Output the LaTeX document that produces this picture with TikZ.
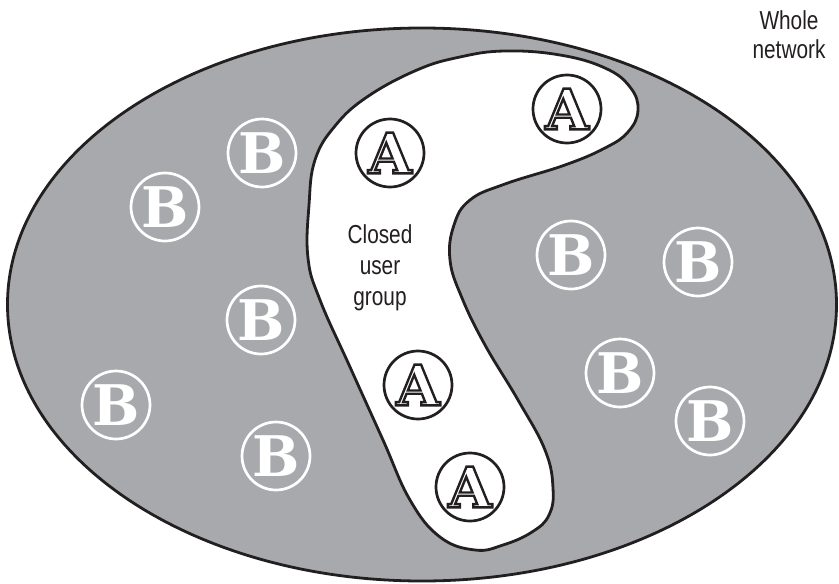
\documentclass[tikz,border=0pt]{standalone}
\usepackage{fontspec}
\setmainfont{Liberation Sans}
\newfontfamily\letterfont{DejaVu Serif}
\newfontfamily\labelfont[FakeStretch=0.8]{Liberation Sans}
\definecolor{netgray}{RGB}{167,169,172}
\definecolor{inkblack}{RGB}{35,31,32}
\tikzset{
  nodeA/.style={circle, draw=inkblack, fill=white, line width=2.7pt, minimum size=68pt, inner sep=0pt,
    font=\letterfont\bfseries\fontsize{56}{56}\selectfont},
  nodeB/.style={circle, draw=white, line width=2.7pt, minimum size=68pt, inner sep=0pt, text=white,
    font=\letterfont\bfseries\fontsize{56}{56}\selectfont},
  lbl/.style={anchor=base, inner sep=0pt, text=inkblack, font=\labelfont\fontsize{26}{26}\selectfont},
  outline/.style={draw=inkblack, line width=2.8pt}
}
\newcommand{\engA}{\textcolor{white}{\special{pdf:literal direct 2 Tr 2.4 w 0.137 0.122 0.125 RG}A\special{pdf:literal direct 0 Tr}}}
\begin{document}
\begin{tikzpicture}[x=1pt,y=-1pt]
\useasboundingbox (0,0) rectangle (839,584);
% whole network
\draw[outline, fill=netgray] (422,304.5) ellipse [x radius=414.5, y radius=276.5];
% closed user group
\draw[outline, fill=white] plot[smooth cycle, tension=0.7] coordinates {
  (475,550) (440,537) (410,500) (383,440) (350,367) (320,300) (308,258) (309,205)
  (315,160) (335,126) (367,97) (417,70) (460,57) (505,51) (560,55) (605,68)
  (630,87) (638,110) (628,132) (605,148) (565,165) (505,184) (470,200) (454,225)
  (450,260) (462,298) (485,345) (518,400) (545,450) (553,488) (549,515) (532,532) (503,545)};
% A nodes
\node[nodeA] (a1) at (390,153) {\engA};
\node[nodeA] (a2) at (567,109) {\engA};
\node[nodeA] (a3) at (418,385) {\engA};
\node[nodeA] (a4) at (470,487) {\engA};
% B nodes
\node[nodeB] (b1) at (262,153) {B};
\node[nodeB] (b2) at (165,207) {B};
\node[nodeB] (b3) at (261,320) {B};
\node[nodeB] (b4) at (116,405) {B};
\node[nodeB] (b5) at (276,456) {B};
\node[nodeB] (b6) at (571,255) {B};
\node[nodeB] (b7) at (698,262) {B};
\node[nodeB] (b8) at (620,373) {B};
\node[nodeB] (b9) at (710,421) {B};
% labels
\node[lbl] (cug1) at (380,243) {Closed};
\node[lbl] (cug2) at (380,274) {user};
\node[lbl] (cug3) at (380,305) {group};
\node[lbl] (wn1) at (789,29) {Whole};
\node[lbl] (wn2) at (789,58) {network};
\end{tikzpicture}
\end{document}
